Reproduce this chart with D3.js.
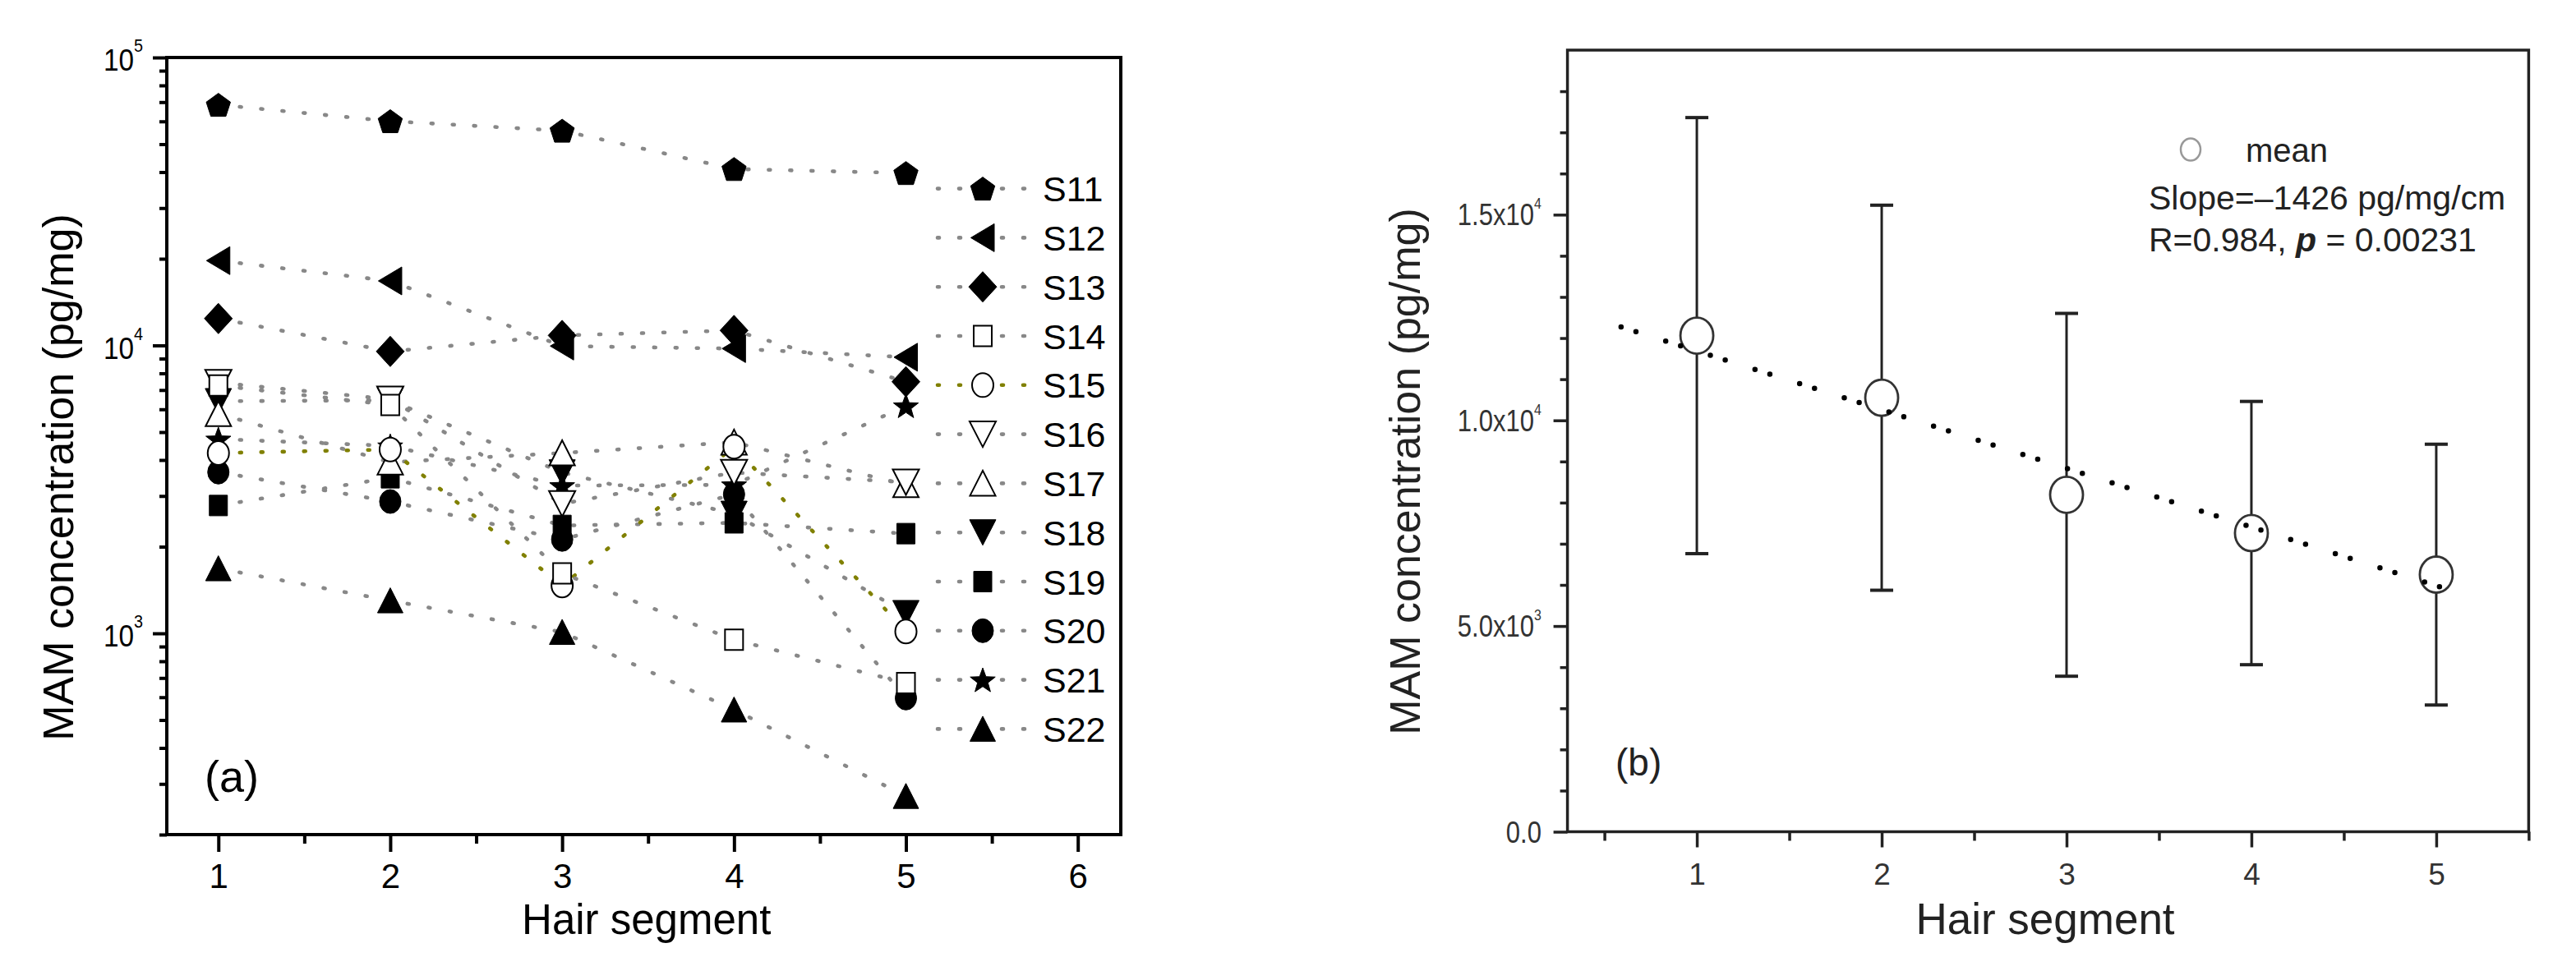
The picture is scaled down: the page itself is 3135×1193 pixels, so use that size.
<!DOCTYPE html>
<html>
<head>
<meta charset="utf-8">
<script src="https://cdn.jsdelivr.net/npm/d3@7"></script>
<style>
  body { margin: 0; background: #fff; }
  svg { display: block; font-family: "Liberation Sans", Arial, sans-serif; }
</style>
</head>
<body>
<svg id="chart" width="3135" height="1193"></svg>
<script>
// ---- data, panel (a): MAM per subject and hair segment (pg/mg) ----
const segments = [1, 2, 3, 4, 5]
const subjects = ['S11', 'S12', 'S13', 'S14', 'S15', 'S16', 'S17', 'S18', 'S19', 'S20', 'S21', 'S22']
const s11 = [68500, 60100, 55700, 41000, 39700]
const s12 = [19700, 16750, 9950, 9750, 9100]
const s13 = [12400, 9530, 10830, 11270, 7480]
const s14 = [7260, 6210, 1615, 950, 672]
const s15 = [4230, 4350, 1466, 4450, 1015]
const s16 = [7430, 6500, 2820, 3620, 3350]
const s17 = [5790, 3930, 4230, 4610, 3280]
const s18 = [6400, 6450, 3620, 2600, 1175]
const s19 = [2780, 3470, 2370, 2420, 2220]
const s20 = [3630, 2870, 2120, 3040, 596]
const s21 = [4730, 4480, 3260, 3280, 6170]
const s22 = [1680, 1300, 1010, 543, 272]
const shapes = ['pentagon', 'triangleLeft', 'diamond', 'square', 'circle', 'triangleDown',
  'triangleUp', 'triangleDown', 'square', 'circle', 'star', 'triangleUp']
const filled = [true, true, true, false, false, false, false, true, true, true, true, true]
const logTicks = [1e3, 1e4, 1e5]

// ---- data, panel (b): mean +- SD per hair segment, linear fit ----
const meanValues = [12060, 10550, 8190, 7260, 6250]
const sdValues = [5300, 4680, 4410, 3200, 3170]
const fitSlope = -1426
const fitIntercept = 13110
const fitRange = [0.59, 5.15]
const linTicks = [0, 5000, 10000, 15000]
const linTickLabels = ['0.0', '5.0x10|3', '1.0x10|4', '1.5x10|4']

const series = subjects.map((name, i) => ({
  name,
  values: [s11, s12, s13, s14, s15, s16, s17, s18, s19, s20, s21, s22][i],
  shape: shapes[i],
  filled: filled[i],
  color: name === 'S15' ? '#808000' : '#888888',
}))

const svg = d3.select('#chart')

// marker outlines, centred on 0,0
function poly(pts) {
  return 'M' + pts.map(p => p[0].toFixed(2) + ',' + p[1].toFixed(2)).join('L') + 'Z'
}
function markerPath(shape) {
  switch (shape) {
    case 'pentagon':
      return poly(d3.range(5).map(i => {
        const a = -Math.PI / 2 + i * 2 * Math.PI / 5
        return [15.5 * Math.cos(a), 15.5 * Math.sin(a) + 1.5]
      }))
    case 'star':
      return poly(d3.range(10).map(i => {
        const a = -Math.PI / 2 + i * Math.PI / 5
        const r = i % 2 ? 6.6 : 16
        return [r * Math.cos(a), r * Math.sin(a) + 1.5]
      }))
    case 'triangleLeft':
      return poly([[-14.5, 0], [14, -17], [14, 17]])
    case 'triangleUp':
      return poly([[0, -15.5], [15.5, 15], [-15.5, 15]])
    case 'triangleDown':
      return poly([[0, 15.5], [16, -15.5], [-16, -15.5]])
    case 'diamond':
      return poly([[0, -18.5], [17, 0], [0, 18.5], [-17, 0]])
    case 'square':
      return poly([[-11, -12.5], [11, -12.5], [11, 12.5], [-11, 12.5]])
    case 'circle':
      return 'M-13,0A13,14.5 0 1,0 13,0A13,14.5 0 1,0 -13,0Z'
  }
}
function drawMarker(g, s) {
  g.append('path')
    .attr('d', markerPath(s.shape))
    .attr('fill', s.filled ? '#000' : '#fff')
    .attr('stroke', '#000')
    .attr('stroke-width', s.filled ? 1 : 2)
}

// ================= panel (a) =================
const xA = d3.scaleLinear().domain([0.7, 6.25]).range([203, 1364])
const yA = d3.scaleLog().domain([200, 1e5]).range([1016, 70])
const panelA = svg.append('g')

// dotted connecting lines
const lineA = d3.line().x((d, i) => xA(segments[i])).y(d => yA(d))
panelA.selectAll('.subject-line')
  .data(series.slice().reverse())
  .enter()
  .append('path')
  .attr('class', 'subject-line')
  .attr('d', d => lineA(d.values))
  .attr('fill', 'none')
  .attr('stroke', d => d.color)
  .attr('stroke-width', 4.6)
  .attr('stroke-linecap', 'round')
  .attr('stroke-dasharray', '2 24')

// markers, last subject first so the early ones sit on top
series.slice().reverse().forEach(s => {
  s.values.forEach((v, i) => {
    const g = panelA.append('g').attr('transform', `translate(${xA(segments[i])},${yA(v)})`)
    drawMarker(g, s)
  })
})

// frame and axes
panelA.append('rect')
  .attr('x', 203).attr('y', 70)
  .attr('width', 1364 - 203).attr('height', 1016 - 70)
  .attr('fill', 'none').attr('stroke', '#000').attr('stroke-width', 4)

const xAxisA = panelA.append('g').attr('transform', 'translate(0,1016)')
xAxisA.call(d3.axisBottom(xA).tickValues([1, 2, 3, 4, 5, 6]).tickSize(21).tickPadding(14).tickFormat(d3.format('d')))
xAxisA.append('g').call(d3.axisBottom(xA).tickValues([1.5, 2.5, 3.5, 4.5, 5.5]).tickSize(11).tickFormat(''))
xAxisA.selectAll('.domain').remove()
xAxisA.selectAll('line').attr('stroke', '#000').attr('stroke-width', 4)
xAxisA.selectAll('text').attr('font-size', 42).attr('fill', '#000').attr('font-family', '"Liberation Sans", Arial, sans-serif')

const minorLog = []
;[100, 1000, 10000].forEach(b => d3.range(2, 10).forEach(k => { if (b * k >= 200) minorLog.push(b * k) }))
const yAxisA = panelA.append('g').attr('transform', 'translate(203,0)')
yAxisA.call(d3.axisLeft(yA).tickValues(logTicks).tickSize(17).tickFormat(''))
yAxisA.append('g').call(d3.axisLeft(yA).tickValues(minorLog).tickSize(9).tickFormat(''))
yAxisA.selectAll('.domain').remove()
yAxisA.selectAll('line').attr('stroke', '#000').attr('stroke-width', 4)

logTicks.forEach(t => {
  const g = panelA.append('g').attr('transform', `translate(174,${yA(t) + 16}) scale(0.9,1)`)
  const txt = g.append('text').attr('text-anchor', 'end').attr('fill', '#000')
  txt.append('tspan').attr('font-size', 37).text('10')
  txt.append('tspan').attr('font-size', 22).attr('dy', -23).text(Math.round(Math.log10(t)))
})

panelA.append('text')
  .attr('transform', 'translate(89,581) rotate(-90)')
  .attr('text-anchor', 'middle')
  .attr('font-size', 52)
  .text('MAM concentration (pg/mg)')
panelA.append('text')
  .attr('x', xA(3.5) - 2).attr('y', 1137)
  .attr('text-anchor', 'middle')
  .attr('font-size', 51)
  .text('Hair segment')
panelA.append('text')
  .attr('x', 249).attr('y', 964)
  .attr('font-size', 54)
  .text('(a)')

// legend
series.forEach((s, i) => {
  const y = 229.6 + i * 59.8
  const row = panelA.append('g').attr('transform', `translate(0,${y})`)
  row.append('line')
    .attr('x1', 1141).attr('x2', 1250).attr('y1', 0).attr('y2', 0)
    .attr('stroke', s.color).attr('stroke-width', 4.6)
    .attr('stroke-linecap', 'round').attr('stroke-dasharray', '2 24')
  drawMarker(row.append('g').attr('transform', 'translate(1196,0)'), s)
  row.append('text').attr('x', 1269).attr('y', 15.5).attr('font-size', 43).text(s.name)
})

// ================= panel (b) =================
const xB = d3.scaleLinear().domain([0.3, 5.5]).range([1907.6, 3077.4])
const yB = d3.scaleLinear().domain([0, 19000]).range([1012.5, 61])
const panelB = svg.append('g')
const ink = '#222'

// error bars
const bars = panelB.selectAll('.err')
  .data(meanValues)
  .enter()
  .append('g')
  .attr('class', 'err')
  .attr('transform', (d, i) => `translate(${xB(segments[i])},0)`)
bars.append('line')
  .attr('y1', (d, i) => yB(d - sdValues[i]))
  .attr('y2', (d, i) => yB(d + sdValues[i]))
  .attr('stroke', ink).attr('stroke-width', 3)
bars.append('line')
  .attr('x1', -14).attr('x2', 14)
  .attr('y1', (d, i) => yB(d + sdValues[i])).attr('y2', (d, i) => yB(d + sdValues[i]))
  .attr('stroke', ink).attr('stroke-width', 4)
bars.append('line')
  .attr('x1', -14).attr('x2', 14)
  .attr('y1', (d, i) => yB(d - sdValues[i])).attr('y2', (d, i) => yB(d - sdValues[i]))
  .attr('stroke', ink).attr('stroke-width', 4)
bars.append('ellipse')
  .attr('cy', d => yB(d))
  .attr('rx', 20).attr('ry', 22)
  .attr('fill', '#fff').attr('stroke', '#333').attr('stroke-width', 2.8)

// fitted line
panelB.append('path')
  .datum(fitRange)
  .attr('d', d3.line().x(d => xB(d)).y(d => yB(fitIntercept + fitSlope * d)))
  .attr('fill', 'none')
  .attr('stroke', '#000')
  .attr('stroke-width', 6.5)
  .attr('stroke-linecap', 'round')
  .attr('stroke-dasharray', '0 19 0 38')

panelB.append('rect')
  .attr('x', 1907.6).attr('y', 61)
  .attr('width', 3077.4 - 1907.6).attr('height', 1012.5 - 61)
  .attr('fill', 'none').attr('stroke', ink).attr('stroke-width', 3.5)

const xAxisB = panelB.append('g').attr('transform', 'translate(0,1012.5)')
xAxisB.call(d3.axisBottom(xB).tickValues(segments).tickSize(19).tickPadding(19).tickFormat(d3.format('d')))
xAxisB.append('g').call(d3.axisBottom(xB).tickValues([0.5, 1.5, 2.5, 3.5, 4.5, 5.5]).tickSize(11).tickFormat(''))
xAxisB.selectAll('.domain').remove()
xAxisB.selectAll('line').attr('stroke', ink).attr('stroke-width', 3.5)
xAxisB.selectAll('text').attr('font-size', 37).attr('fill', '#333').attr('font-family', '"Liberation Sans", Arial, sans-serif')

const yAxisB = panelB.append('g').attr('transform', 'translate(1907.6,0)')
yAxisB.call(d3.axisLeft(yB).tickValues(linTicks).tickSize(17).tickFormat(''))
yAxisB.append('g').call(d3.axisLeft(yB).tickValues(d3.range(1000, 19000, 1000).filter(v => v % 5000)).tickSize(9).tickFormat(''))
yAxisB.selectAll('.domain').remove()
yAxisB.selectAll('line').attr('stroke', ink).attr('stroke-width', 3.5)

linTicks.forEach((t, i) => {
  const [base, exp] = linTickLabels[i].split('|')
  const g = panelB.append('g').attr('transform', `translate(1876,${yB(t) + 13}) scale(0.84,1)`)
  const txt = g.append('text').attr('text-anchor', 'end').attr('fill', '#333')
  txt.append('tspan').attr('font-size', 37).text(base)
  if (exp) txt.append('tspan').attr('font-size', 19).attr('dy', -20).text(exp)
})

panelB.append('text')
  .attr('transform', 'translate(1728,574) rotate(-90)')
  .attr('text-anchor', 'middle')
  .attr('font-size', 52)
  .attr('fill', ink)
  .text('MAM concentration (pg/mg)')
panelB.append('text')
  .attr('x', 2489).attr('y', 1137)
  .attr('text-anchor', 'middle')
  .attr('font-size', 53)
  .attr('fill', ink)
  .text('Hair segment')
panelB.append('text')
  .attr('x', 1966).attr('y', 944)
  .attr('font-size', 46)
  .attr('fill', ink)
  .text('(b)')

// legend and fit statistics
panelB.append('ellipse')
  .attr('cx', 2666).attr('cy', 182).attr('rx', 12).attr('ry', 13.5)
  .attr('fill', '#fff').attr('stroke', '#999').attr('stroke-width', 2.5)
panelB.append('text').attr('x', 2733).attr('y', 197).attr('font-size', 40).attr('fill', ink).text('mean')
panelB.append('text').attr('x', 2615).attr('y', 255).attr('font-size', 41).attr('fill', ink)
  .text(`Slope=\u2013${Math.abs(fitSlope)} pg/mg/cm`)
const stat = panelB.append('text').attr('x', 2615).attr('y', 306).attr('font-size', 41).attr('fill', ink)
stat.append('tspan').text('R=0.984, ')
stat.append('tspan').attr('font-weight', 'bold').attr('font-style', 'italic').text('p')
stat.append('tspan').text(' = 0.00231')
</script>
</body>
</html>
